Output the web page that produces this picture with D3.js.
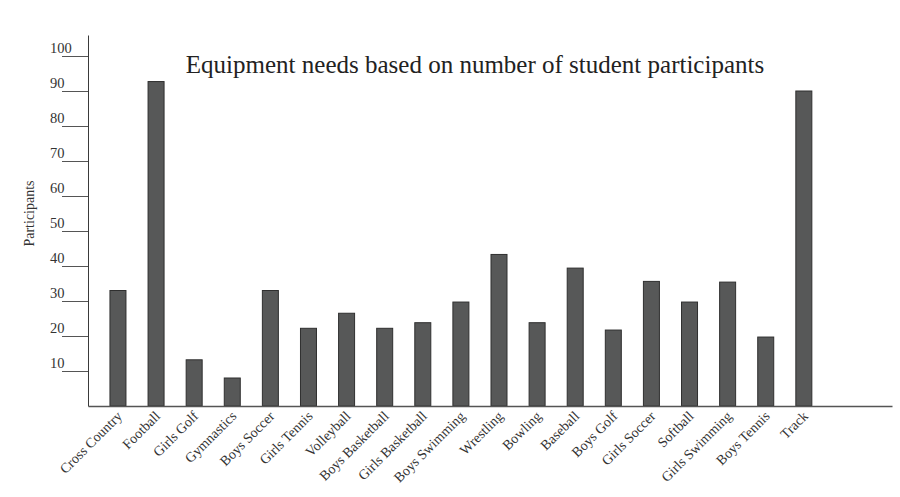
<!DOCTYPE html>
<html>
<head>
<meta charset="utf-8">
<script src="https://cdn.jsdelivr.net/npm/d3@7"></script>
<style>
  body { margin: 0; background: #fff; }
  text { font-family: "Liberation Serif", "DejaVu Serif", serif; fill: #333; }
  .axis path, .axis line { stroke: #3a3a3a; }
</style>
</head>
<body>
<div class="chart"></div>
<script>
'use strict'

// Data.
const sports = ['Cross Country', 'Football', 'Girls Golf', 'Gymnastics', 'Boys Soccer',
    'Girls Tennis', 'Volleyball', 'Boys Basketball', 'Girls Basketball', 'Boys Swimming',
    'Wrestling', 'Bowling', 'Baseball', 'Boys Golf', 'Girls Soccer', 'Softball',
    'Girls Swimming', 'Boys Tennis', 'Track'];
const participants = [33, 92.7, 13.2, 8, 33, 22.2, 26.5, 22.2, 23.8, 29.7,
    43.3, 23.8, 39.4, 21.7, 35.6, 29.7, 35.4, 19.7, 90];
const yTicks = [10, 20, 30, 40, 50, 60, 70, 80, 90, 100];

const data = sports.map((s, i) => ({sport: s, count: participants[i]}));

// Dimensions
const width = 900, height = 497,
    margin = {top: 35, right: 8, bottom: 91, left: 88};

const svg = d3.select('.chart')
    .append('svg')
    .attr('width', width)
    .attr('height', height);

// Scales
const x = d3.scaleBand()
    .domain(sports)
    .range([margin.left, width - margin.right])
    .paddingInner(0.58)
    .paddingOuter(1.34)
    .align(0.215);

const y = d3.scaleLinear()
    .domain([0, 106])
    .range([height - margin.bottom, margin.top]);

// Bars
svg.selectAll('rect.bar')
    .data(data)
    .join('rect')
    .attr('class', 'bar')
    .attr('x', d => x(d.sport))
    .attr('y', d => y(d.count))
    .attr('width', x.bandwidth())
    .attr('height', d => y(0) - y(d.count))
    .style('fill', '#575858')
    .style('stroke', '#2f2f2f')
    .style('stroke-width', 1);

// y axis
const yAxis = svg.append('g')
    .attr('class', 'axis yAxis')
    .attr('transform', `translate(${margin.left},0)`)
    .call(d3.axisLeft(y).tickValues(yTicks).tickSize(26).tickSizeOuter(0));

yAxis.selectAll('.tick text')
    .attr('x', -38)
    .attr('dy', '-0.22em')
    .style('text-anchor', 'start')
    .style('font-size', '14.5px');
yAxis.selectAll('.tick line').style('stroke', '#555');

// x axis
const xAxis = svg.append('g')
    .attr('class', 'axis xAxis')
    .attr('transform', `translate(0,${y(0)})`)
    .call(d3.axisBottom(x).tickSize(0).tickSizeOuter(0));

xAxis.select('.domain').style('stroke', '#555').style('stroke-width', 1.5);
xAxis.selectAll('.tick text')
    .attr('transform', 'translate(5,11) rotate(-45)')
    .attr('x', 0)
    .attr('y', 0)
    .attr('dy', 0)
    .style('text-anchor', 'end')
    .style('font-size', '14px');

// y label
svg.append('text')
    .attr('transform', `translate(34,${y(55)}) rotate(-90)`)
    .style('text-anchor', 'middle')
    .style('font-size', '14px')
    .text('Participants');

// Title
svg.append('text')
    .attr('x', 475)
    .attr('y', 73)
    .style('text-anchor', 'middle')
    .style('font-size', '25px')
    .style('fill', '#222')
    .text('Equipment needs based on number of student participants');
</script>
</body>
</html>
